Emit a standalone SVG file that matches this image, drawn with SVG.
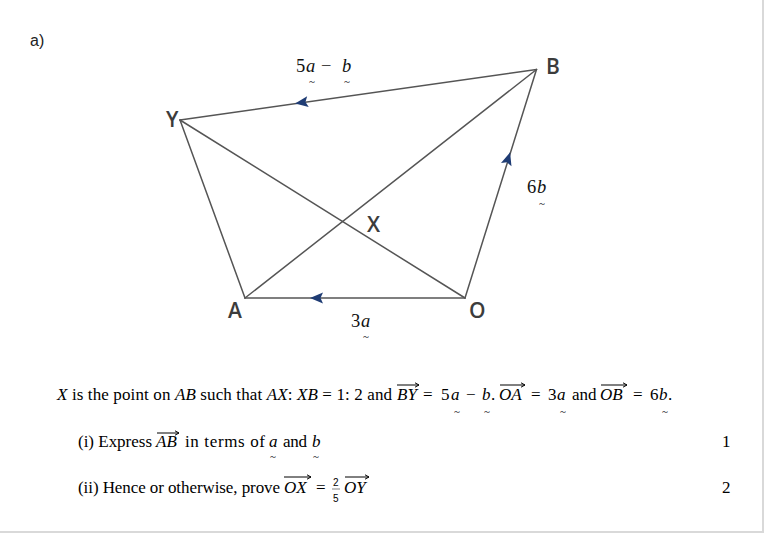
<svg xmlns="http://www.w3.org/2000/svg" width="764" height="533" viewBox="0 0 764 533">
<style>
.ln{stroke:#555;stroke-width:1.5;fill:none;stroke-linecap:round}
.lbl{font-family:"Open Sans","Liberation Sans",sans-serif;font-size:21px;font-weight:600;fill:#3c3c3c}
.m{font-family:"Liberation Serif","DejaVu Serif",serif;font-size:18.5px;fill:#111}
.t{font-family:"Liberation Serif","DejaVu Serif",serif;font-size:17px;fill:#000}
.i{font-style:italic}
.tl{font-family:"Liberation Serif","DejaVu Serif",serif;font-size:11px;fill:#000;text-anchor:middle}
.vec{stroke:#000;stroke-width:1;fill:none}
.ah{fill:#1f3c74}
.fr{font-family:"Liberation Sans",sans-serif;font-size:10px;fill:#000}
</style>
<defs>
<path id="arr" class="ah" d="M7,0 L-6,-5.5 L-3.5,0 L-6,5.5 Z"/>
<path id="va" d="M-4,-2.2 L0,0 L-4,2.2" fill="none" stroke="#000" stroke-width="1"/>
</defs>
<rect x="0" y="0" width="764" height="533" fill="#fff"/>
<line x1="0" y1="532" x2="764" y2="532" stroke="#d9d9d9" stroke-width="2"/>
<line x1="763" y1="0" x2="763" y2="533" stroke="#d9d9d9" stroke-width="2"/>
<text x="30" y="46" font-family="Liberation Sans,sans-serif" font-size="16" fill="#222">a)</text>
<g id="connectors">
<line class="ln" x1="180" y1="120" x2="536.5" y2="69.5"/>
<line class="ln" x1="180" y1="120" x2="245" y2="298"/>
<line class="ln" x1="180" y1="120" x2="465" y2="298"/>
<line class="ln" x1="245" y1="298" x2="536.5" y2="69.5"/>
<line class="ln" x1="245" y1="298" x2="465" y2="298" stroke="#808080"/>
<line class="ln" x1="465" y1="298" x2="536.5" y2="69.5"/>
<use href="#arr" transform="translate(302,102.5) rotate(171.9)"/>
<use href="#arr" transform="translate(508,159) rotate(-72.8)"/>
<use href="#arr" transform="translate(317,298) rotate(180)"/>
</g>
<g id="node-B"><text class="lbl" x="546" y="74">B</text></g>
<g id="node-Y"><text class="lbl" x="166" y="127">Y</text></g>
<g id="node-A"><text class="lbl" x="228" y="318">A</text></g>
<g id="node-O"><text class="lbl" x="469" y="318">O</text></g>
<g id="node-X"><text class="lbl" x="367" y="232">X</text></g>
<g id="label-BY">
<text class="m" x="296" y="72">5</text>
<text class="m i" x="306" y="72">a</text>
<text class="m" x="321" y="72">−</text>
<text class="m i" x="342" y="72">b</text>
<text class="tl" x="312" y="85">~</text>
<text class="tl" x="347" y="85">~</text>
</g>
<g id="label-OB">
<text class="m" x="527" y="193">6</text>
<text class="m i" x="537" y="193">b</text>
<text class="tl" x="542" y="207">~</text>
</g>
<g id="label-OA">
<text class="m" x="351" y="327">3</text>
<text class="m i" x="361" y="327">a</text>
<text class="tl" x="366" y="340">~</text>
</g>
<g id="question">
<text class="t" x="57" y="400" textLength="335" lengthAdjust="spacing"><tspan class="i">X</tspan> is the point on <tspan class="i">AB</tspan> such that <tspan class="i">AX</tspan>: <tspan class="i">XB</tspan> = 1: 2 and</text>
<text class="t i" x="397" y="400">BY</text>
<line class="vec" x1="397" y1="385" x2="419" y2="385"/><use href="#va" transform="translate(419,385)"/>
<text class="t" x="423" y="400">=</text>
<text class="t" x="441" y="400">5</text>
<text class="t i" x="451" y="400">a</text>
<text class="t" x="466" y="400">−</text>
<text class="t i" x="482" y="400">b</text>
<text class="t" x="491" y="400">.</text>
<text class="tl" x="457" y="415">~</text>
<text class="tl" x="487" y="415">~</text>
<text class="t i" x="499" y="400">OA</text>
<line class="vec" x1="500" y1="385" x2="525" y2="385"/><use href="#va" transform="translate(525,385)"/>
<text class="t" x="531" y="400">=</text>
<text class="t" x="548" y="400">3</text>
<text class="t i" x="557" y="400">a</text>
<text class="t" x="572" y="400">and</text>
<text class="tl" x="563" y="415">~</text>
<text class="t i" x="600" y="400">OB</text>
<line class="vec" x1="601" y1="385" x2="627" y2="385"/><use href="#va" transform="translate(627,385)"/>
<text class="t" x="633" y="400">=</text>
<text class="t" x="650" y="400">6</text>
<text class="t i" x="659" y="400">b</text>
<text class="t" x="668" y="400">.</text>
<text class="tl" x="665" y="415">~</text>

<text class="t" x="78" y="447" textLength="74" lengthAdjust="spacing">(i) Express</text>
<text class="t i" x="156" y="447">AB</text>
<line class="vec" x1="157" y1="433" x2="179" y2="433"/><use href="#va" transform="translate(179,433)"/>
<text class="t" x="185" y="447" textLength="80" lengthAdjust="spacing">in terms of</text>
<text class="t i" x="269" y="447">a</text>
<text class="t" x="283" y="447" textLength="24" lengthAdjust="spacing">and</text>
<text class="t i" x="312" y="447">b</text>
<text class="tl" x="273" y="460">~</text>
<text class="tl" x="316" y="460">~</text>
<text class="t" x="722" y="447">1</text>

<text class="t" x="78" y="493" textLength="202" lengthAdjust="spacing">(ii) Hence or otherwise, prove</text>
<text class="t i" x="284" y="493">OX</text>
<line class="vec" x1="284" y1="477" x2="311" y2="477"/><use href="#va" transform="translate(311,477)"/>
<text class="t" x="316" y="493">=</text>
<text class="fr" x="333" y="486">2</text>
<line x1="332" y1="489" x2="340" y2="489" stroke="#000" stroke-width="0.5"/>
<text class="fr" x="333" y="502">5</text>
<text class="t i" x="344" y="493">OY</text>
<line class="vec" x1="345" y1="477" x2="369" y2="477"/><use href="#va" transform="translate(369,477)"/>
<text class="t" x="722" y="493">2</text>
</g>
</svg>
